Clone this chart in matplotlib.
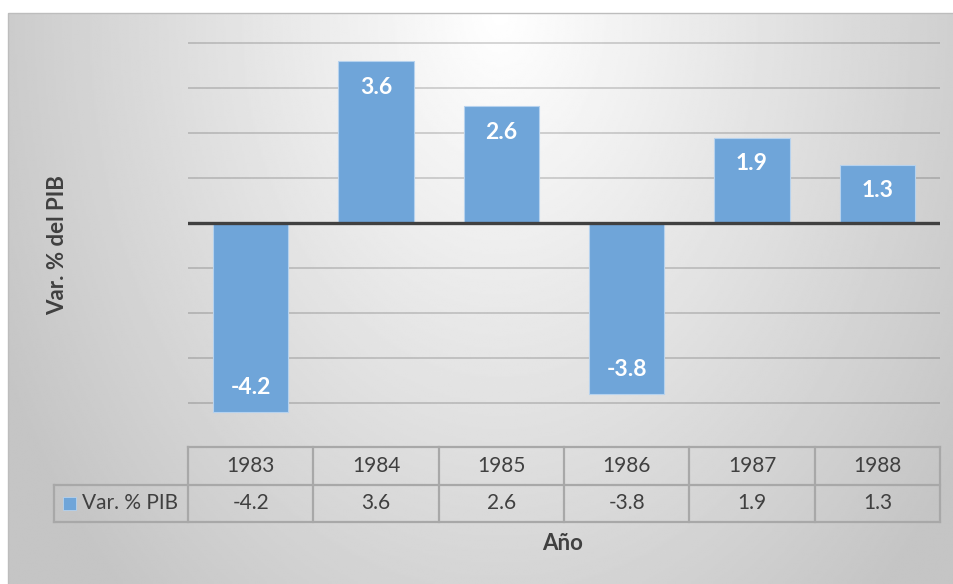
import matplotlib
matplotlib.use('Agg')
import matplotlib.pyplot as plt
import numpy as np
from matplotlib.patches import Rectangle

plt.rcParams['font.family'] = ['Lato', 'DejaVu Sans']

# Datos
years = ['1983', '1984', '1985', '1986', '1987', '1988']
var_pib = [-4.2, 3.6, 2.6, -3.8, 1.9, 1.3]
serie = 'Var. % PIB'
y_ticks = [-4, -3, -2, -1, 1, 2, 3, 4]

W, H = 954, 584
bar_color = '#6fa5d9'
text_color = '#404040'
table_line = '#a8a8a8'

fig = plt.figure(figsize=(W / 100, H / 100), dpi=100)

# Fondo con degradado (area del grafico)
ax_bg = fig.add_axes([0, 0, 1, 1])
ax_bg.set_xlim(0, W)
ax_bg.set_ylim(0, H)
ax_bg.axis('off')
gx = np.linspace(8, W, 480)
gy = np.linspace(0, H - 13, 300)
XX, YY = np.meshgrid(gx, gy)
dist = np.sqrt(((XX - 500) / 440) ** 2 + ((YY - (H - 13)) / 620) ** 2)
vals = np.clip(1 - 0.18 * dist, 0.77, 1)
ax_bg.imshow(vals, cmap='gray', vmin=0, vmax=1, extent=(8, W, 0, H - 13),
             origin='lower', aspect='auto', interpolation='bilinear')
ax_bg.add_patch(Rectangle((8, -2), W, H - 13 + 2, fill=False, edgecolor='#bdbdbd', lw=1))

# Grafico de barras
px_unit = 45
ymin, ymax = -4.5, 4.05
top_px = 43 - (ymax - 4) * px_unit
ax_h = (ymax - ymin) * px_unit
ax = fig.add_axes([188 / W, (H - top_px - ax_h) / H, 752 / W, ax_h / H])
ax.set_facecolor('none')
x = np.arange(len(years))
ax.set_xlim(-0.5, len(years) - 0.5)
ax.set_ylim(ymin, ymax)
for t in y_ticks:
    ax.axhline(t, color='black', alpha=0.17, lw=1.3, zorder=1)
ax.bar(x, var_pib, width=0.6, color=bar_color, edgecolor='#b6d2ee', lw=0.8, zorder=2)
ax.axhline(0, color='#404040', lw=2.4, zorder=3)
for xi, v in zip(x, var_pib):
    off = -19 if v > 0 else 18
    ax.annotate(f'{v:.1f}', (xi, v), xytext=(0, off), textcoords='offset points',
                ha='center', va='center', color='white', fontsize=16.5, fontweight='bold', zorder=4)
ax.set_xticks([])
ax.set_yticks([])
for s in ax.spines.values():
    s.set_visible(False)

# Tabla de datos
ax_t = fig.add_axes([188 / W, (H - 522) / H, 752 / W, 75 / H])
ax_t.set_facecolor('none')
ax_t.set_xlim(-0.5, len(years) - 0.5)
ax_t.set_ylim(0, 2)
ax_t.axis('off')
label_left = -0.5 - 134 / (752 / len(years))
lkw = dict(color=table_line, lw=1.6, clip_on=False, solid_capstyle='projecting')
ax_t.plot([-0.5, len(years) - 0.5], [2, 2], **lkw)
ax_t.plot([label_left, len(years) - 0.5], [1, 1], **lkw)
ax_t.plot([label_left, len(years) - 0.5], [0, 0], **lkw)
ax_t.plot([label_left, label_left], [0, 1], **lkw)
for i in range(len(years) + 1):
    ax_t.plot([i - 0.5, i - 0.5], [0, 2], **lkw)
for xi, yr, v in zip(x, years, var_pib):
    ax_t.text(xi, 1.5, yr, ha='center', va='center', fontsize=15, color=text_color)
    ax_t.text(xi, 0.5, f'{v:.1f}', ha='center', va='center', fontsize=15, color=text_color)
ax_t.add_patch(Rectangle((label_left + 0.075, 0.33), 0.1, 0.33, facecolor=bar_color,
                         edgecolor='#b6d2ee', lw=0.6, clip_on=False))
ax_t.text(label_left + 0.22, 0.5, serie, ha='left', va='center', fontsize=15,
          color=text_color, clip_on=False)

# Titulos de ejes
fig.text(563 / W, (H - 544) / H, 'Año', ha='center', va='center', fontsize=16,
         fontweight='bold', color=text_color)
fig.text(58 / W, (H - 245) / H, 'Var. % del PIB', ha='center', va='center', fontsize=16,
         fontweight='bold', color=text_color, rotation=90)

fig.savefig('out.png', dpi=100)
